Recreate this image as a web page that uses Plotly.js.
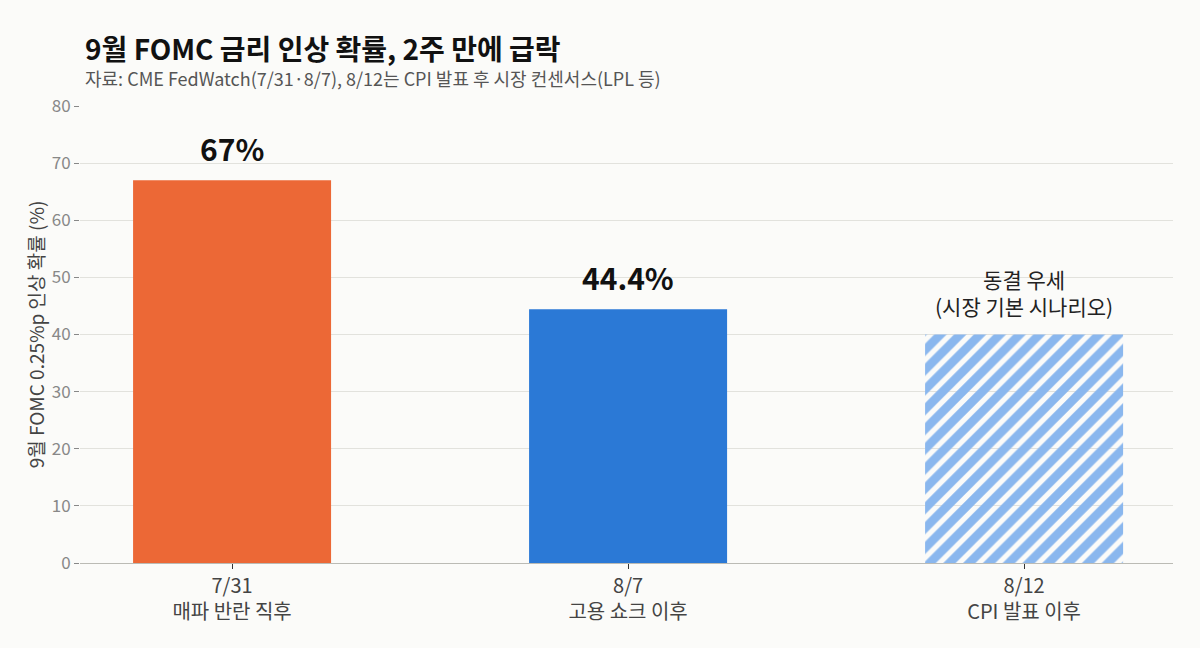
<!DOCTYPE html>
<html><head><meta charset="utf-8">
<script src="https://cdn.plot.ly/plotly-3.0.1.min.js"></script>
<style>html,body{margin:0;padding:0;background:#fbfbf9;}#chart{width:1200px;height:648px;}</style>
</head><body><div id="chart"></div>
<script>
const categories = ['7/31<br>매파 반란 직후', '8/7<br>고용 쇼크 이후', '8/12<br>CPI 발표 이후'];
const values = [67, 44.4, 40];
const valueLabels = ['67%', '44.4%', '동결 우세<br>(시장 기본 시나리오)'];
const yTicks = [0, 10, 20, 30, 40, 50, 60, 70, 80];

const FONT = '"Noto Sans CJK KR", "Noto Sans", sans-serif';
const xIdx = [0, 1, 2];

const trace = {
  type: 'bar',
  x: xIdx,
  y: values,
  width: 0.5,
  marker: {
    color: ['#ec6836', '#2b79d6', '#8ab7ee'],
    line: {width: 0},
    pattern: {shape: ['', '', '/'], fgcolor: '#86b5ef', bgcolor: '#ffffff', size: 14, solidity: 0.62, fillmode: 'replace'}
  },
  hoverinfo: 'skip'
};

const annotations = [
  {x: 0, y: values[0], text: valueLabels[0], font: {size: 30, color: '#111', family: FONT, weight: 700}, yshift: 8},
  {x: 1, y: values[1], text: valueLabels[1], font: {size: 30, color: '#111', family: FONT, weight: 700}, yshift: 8},
  {x: 2, y: values[2], text: valueLabels[2], font: {size: 21, color: '#222', family: FONT}, yshift: 12}
].map(a => Object.assign({xref: 'x', yref: 'y', showarrow: false, yanchor: 'bottom', xanchor: 'center'}, a));

annotations.push(
  {xref: 'paper', yref: 'paper', x: 0.003, y: 1.127, xanchor: 'left', yanchor: 'middle', showarrow: false,
   text: '<b>9월 FOMC 금리 인상 확률, 2주 만에 급락</b>', font: {size: 28, color: '#111', family: FONT}},
  {xref: 'paper', yref: 'paper', x: 0.003, y: 1.061, xanchor: 'left', yanchor: 'middle', showarrow: false,
   text: '자료: CME FedWatch(7/31·8/7), 8/12는 CPI 발표 후 시장 컨센서스(LPL 등)', font: {size: 18, color: '#555', family: FONT}}
);

const layout = {
  width: 1200, height: 648,
  paper_bgcolor: '#fbfbf9', plot_bgcolor: '#fbfbf9',
  margin: {l: 80, r: 27, t: 106, b: 85},
  showlegend: false,
  font: {family: FONT},
  xaxis: {
    range: [-0.384, 2.376],
    tickvals: xIdx, ticktext: categories,
    tickfont: {size: 20, color: '#444', family: FONT},
    ticks: 'outside', ticklen: 5, tickcolor: '#333', tickwidth: 1,
    showline: true, linecolor: '#bbbbb5', linewidth: 1,
    showgrid: false, zeroline: false, fixedrange: true
  },
  yaxis: {
    range: [0, 80],
    tickvals: yTicks,
    tickfont: {size: 17, color: '#888', family: FONT},
    ticks: 'outside', ticklen: 5, tickcolor: '#888',
    showgrid: true, gridcolor: '#e2e2dd', gridwidth: 1,
    zeroline: false, showline: false,
    title: {text: '9월 FOMC 0.25%p 인상 확률 (%)', font: {size: 19, color: '#444', family: FONT}, standoff: 2}
  },
  annotations: annotations
};

Plotly.newPlot('chart', [trace], layout, {displayModeBar: false, staticPlot: true});
</script></body></html>
